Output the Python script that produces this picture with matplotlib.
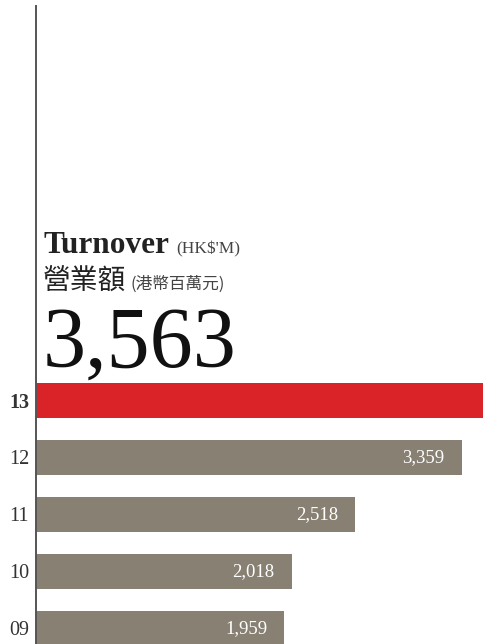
import numpy as np
import matplotlib.pyplot as plt

years = ['09', '10', '11', '12', '13']
turnover = [1959, 2018, 2518, 3359, 3563]
value_labels = ['1,959', '2,018', '2,518', '3,359', '']
bar_colors = ['#878073', '#878073', '#878073', '#878073', '#DA2229']

W, H = 483, 644
fig = plt.figure(figsize=(W / 100, H / 100), dpi=100)

# axes: left edge at the vertical line, runs off the right edge
ax = fig.add_axes([36 / W, 0, 1 - 36 / W, (H - 6) / H])

y = np.arange(len(years))
ax.barh(y, turnover, height=0.614, color=bar_colors, zorder=2)

ax.set_xlim(0, 3525)
ax.set_ylim(-0.272, 10.92)

for i, lab in enumerate(value_labels):
    if lab:
        ax.annotate(lab, xy=(turnover[i], y[i]), xytext=(-12.5, 0),
                    textcoords='offset points', ha='right', va='center',
                    color='white', fontsize=13.5, family='Liberation Serif')

ax.set_yticks(y)
ax.set_yticklabels(years, family='Liberation Serif', fontsize=14.5, color='#333333')
ax.get_yticklabels()[-1].set_fontweight('bold')
ax.tick_params(axis='y', length=0, pad=5)
ax.set_xticks([])

for s in ['top', 'right', 'bottom']:
    ax.spines[s].set_visible(False)
ax.spines['left'].set_color('#555555')
ax.spines['left'].set_linewidth(1.4)

# heading block
fig.text(44 / W, 1 - 253 / H, 'Turnover', family='Liberation Serif',
         fontweight='bold', fontsize=22.5, color='#222222', va='baseline')
fig.text(176 / W, 1 - 253 / H, "(HK$'M)", family='Liberation Serif',
         fontsize=12.5, color='#444444', va='baseline')
fig.text(43 / W, 1 - 290 / H, '營業額', family=['Noto Sans CJK TC', 'DejaVu Sans'],
         fontsize=20, color='#222222', va='baseline')
fig.text(131 / W, 1 - 289 / H, '(港幣百萬元)', family=['Noto Sans CJK TC', 'DejaVu Sans'],
         fontsize=12, color='#444444', va='baseline')
fig.text(43 / W, 1 - 367 / H, '3,563', family='Liberation Serif',
         fontsize=62, color='#111111', va='baseline')

fig.savefig('out.png', dpi=100)
